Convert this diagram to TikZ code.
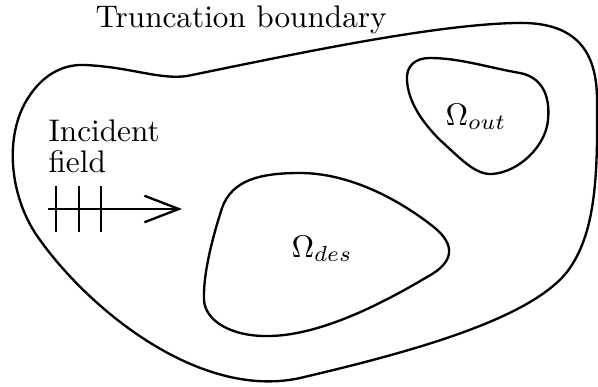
\documentclass[tikz,border=0pt]{standalone}
\usepackage{amsmath,amssymb}
\usepackage{tikz}
\usetikzlibrary{arrows.meta, positioning}

\begin{document}
\begin{tikzpicture}[x=0.32pt, y=-0.32pt,
    bnd/.style={line width=0.75pt, line join=round},
    lbl/.style={inner sep=0pt, font=\normalsize},
    arr/.style={-{Straight Barb[length=11pt, width=8.5pt, line width=0.75pt]}, line width=0.75pt}]
  \useasboundingbox (0,0) rectangle (598,387);
  % truncation boundary
  \draw[bnd] (187,76)
    .. controls (290,55) and (430,25) .. (515,23)
    .. controls (575,21) and (597,50) .. (597,100)
    .. controls (598,180) and (595,235) .. (567,272)
    .. controls (530,318) and (420,350) .. (300,378)
    .. controls (200,400) and (90,310) .. (40,240)
    .. controls (10,200) and (2,135) .. (30,95)
    .. controls (45,73) and (65,64) .. (85,65)
    .. controls (130,67) and (160,80) .. (187,76) -- cycle;
  % design region
  \draw[bnd] (300,173)
    .. controls (350,173) and (400,200) .. (435,228)
    .. controls (455,245) and (455,262) .. (427,277)
    .. controls (380,305) and (320,335) .. (270,336)
    .. controls (230,337) and (205,320) .. (204,300)
    .. controls (203,270) and (215,230) .. (222,208)
    .. controls (232,180) and (260,173) .. (300,173) -- cycle;
  % observation region
  \draw[bnd] (430,58)
    .. controls (460,58) and (490,68) .. (520,73)
    .. controls (545,78) and (550,100) .. (548,120)
    .. controls (546,145) and (520,172) .. (492,174)
    .. controls (475,175) and (460,158) .. (440,140)
    .. controls (420,120) and (408,100) .. (407,80)
    .. controls (406,66) and (415,58) .. (430,58) -- cycle;
  \node[lbl, anchor=base west] (trunc) at (95,27) {Truncation boundary};
  \node[lbl, anchor=base] (des) at (322,257) {$\Omega_{des}$};
  \node[lbl, anchor=base] (out) at (476,125) {$\Omega_{out}$};
  \node[lbl, anchor=north west, align=left] (inc) at (48,119) {Incident\\[-2pt]field};
  % incident plane wave
  \coordinate (src) at (48,209);
  \coordinate (dst) at (182,209);
  \draw[arr] (src) -- (dst);
  \foreach \tx in {56,79,101}
    \draw[bnd] (\tx,186) -- (\tx,232);
\end{tikzpicture}
\end{document}
